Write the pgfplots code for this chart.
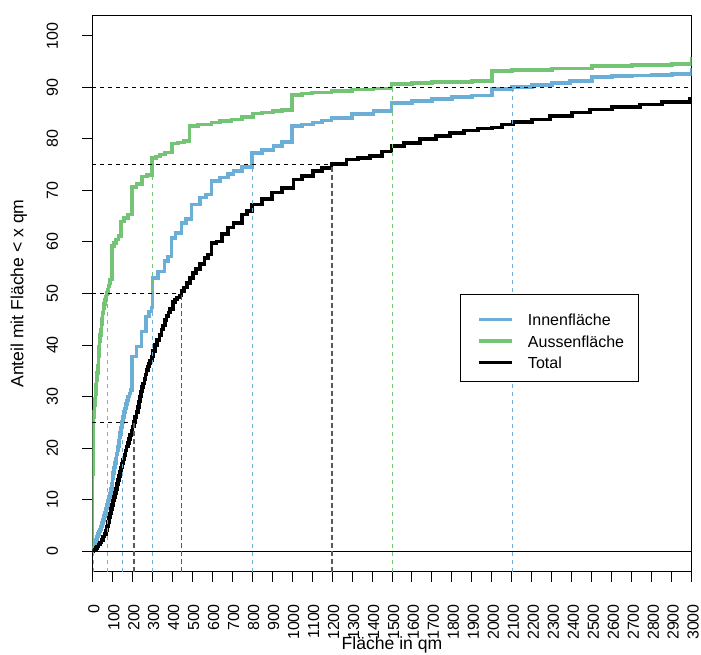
\documentclass[border=0pt]{standalone}
\usepackage{fontspec}
\setmainfont{Liberation Sans}
\usepackage{pgfplots}
\pgfplotsset{compat=1.18}
\definecolor{blueC}{RGB}{107,174,214}
\definecolor{greenC}{RGB}{116,196,118}
\begin{document}
\begin{tikzpicture}
\begin{axis}[name=ax, scale only axis, width=599.4pt, height=556.4pt,
 xmin=0, xmax=3000, ymin=-4, ymax=104,
 xtick={0,100,...,3000}, ytick={0,10,...,100},
 tick align=outside, xtick pos=bottom, ytick pos=left,
 major tick length=10pt,
 every tick/.style={black, line width=1pt},
 axis line style={line width=1pt},
 /pgf/number format/assume math mode=true,
 /pgf/number format/1000 sep={},
 scaled ticks=false,
 tick label style={font=\fontsize{16}{19}\selectfont},
 xticklabel style={xshift=1.5pt, yshift=-22.3pt, rotate=90, anchor=east, inner sep=0pt},
 yticklabel style={xshift=-24pt, rotate=90, anchor=south, inner sep=0pt},
 xlabel={Fläche in qm}, ylabel={Anteil mit Fläche < x qm},
 label style={font=\fontsize{17.6}{21}\selectfont},
 xlabel style={at={(axis description cs:0.5,0)}, anchor=base, yshift=-77.5pt, inner sep=0pt},
 ylabel style={at={([xshift=-68.8pt]axis description cs:0,0.5)}, anchor=base, inner sep=0pt},
 legend style={draw=none, fill=none, at={(axis description cs:0.6418,0.4673)}, anchor=north west,
   inner sep=0pt, row sep=6pt, column sep=0pt, font=\fontsize{16}{19}\selectfont,
   nodes={inner sep=0pt}, cells={anchor=west}},
 legend image code/.code={\draw[#1] (0pt,0pt) -- (33pt,0pt); \path[draw=none, fill=none] (0pt,-7pt) rectangle (49pt,7pt);},
]
% Innenflaeche
\addplot[const plot, blueC, line width=3.6pt] coordinates {
(0,0)(4,0.3)(8,0.6)(12,1.1)(16,1.6)(20,2.2)(25,2.8)(30,3.3)(35,3.8)(40,4.2)(45,4.8)(50,5.4)(55,6.0)(60,6.8)(65,7.5)(70,8.3)(75,9.0)(80,9.8)(85,10.5)(90,11.2)(94,12.1)(98,13.0)(102,14.2)(105,15.1)(110,16.2)(114,17.1)(118,18.0)(122,18.8)(126,19.6)(130,20.3)(134,21.4)(137,22.2)(140,22.9)(145,24.0)(150,25.1)(154,26.0)(158,27.0)(163,27.7)(168,28.5)(174,29.2)(180,30.0)(186,30.6)(192,31.3)
(200,37.8)(222,39.7)(247,42.6)(270,45.5)(285,46.5)(296,47.3)(302,53.0)(329,54.3)(362,56.3)(380,57.2)(396,60.8)(416,61.8)(446,63.7)(470,64.5)(496,67.3)(539,68.6)(570,69.2)(597,71.8)(640,72.5)(680,73.2)(706,73.8)(750,74.5)(798,77.3)(850,77.8)(906,78.6)(950,79.4)(998,82.5)(1050,82.8)(1106,83.2)(1150,83.6)(1198,84.1)(1300,84.8)(1407,85.4)(1498,87.0)(1600,87.4)(1700,87.8)(1800,88.1)(1900,88.4)(1999,89.7)(2102,90.1)(2200,90.5)(2300,90.8)(2391,91.3)(2500,92.0)(2600,92.2)(2700,92.3)(2800,92.4)(2900,92.6)(2998,93.5)(3000,93.5)};
\addlegendentry{\rule{0pt}{14pt}Innenfläche}
% Aussenflaeche
\addplot[const plot, greenC, line width=3.6pt] coordinates {
(0,0)(0.5,5)(1,10)(1.5,15)(2.5,19)(4,21)(5,25)(7,26)(10,27)(12,28.3)(14,29.5)(16,30.5)(18,31.5)(20,32.3)(22,33.2)(25,34.6)(28,36)(31,37.8)(34,39.7)(37,40.8)(40,42)(43,43)(46,44)(49,45.1)(52,46.2)(56,47.1)(60,48)(64,48.7)(68,49.4)(72,49.8)(75,50.1)(78,50.8)(82,51.4)(86,52.0)(90,52.7)
(99,59.2)(110,59.8)(120,60.5)(132,61.2)(145,64.0)(160,64.7)(179,65.3)(199,70.7)(222,71.2)(249,72.7)(275,73.0)(299,76.3)(320,76.6)(340,77.0)(365,77.4)(399,79.1)(430,79.3)(460,79.6)(487,82.5)(530,82.8)(596,83.2)(640,83.5)(696,83.8)(750,84.2)(804,84.9)(850,85.1)(904,85.4)(950,85.6)(1000,88.5)(1050,88.8)(1100,89.0)(1198,89.3)(1300,89.6)(1407,89.8)(1498,90.7)(1600,90.9)(1700,91.0)(1800,91.1)(1900,91.2)(1999,93.2)(2100,93.4)(2300,93.7)(2500,94.2)(2700,94.3)(2900,94.5)(2998,95.5)(3000,95.5)};
\addlegendentry{\rule{0pt}{14pt}Aussenfläche}
% Total
\addplot[const plot, black, line width=3.6pt] coordinates {
(0,0)(6,0.1)(13,0.3)(19,0.6)(25,0.9)(32,1.3)(40,1.7)(47,2.2)(55,2.8)(62,3.3)(70,4.0)(75,4.8)(80,5.7)(85,6.5)(89,7.3)(95,8.2)(100,9.0)(105,9.8)(110,10.5)(115,11.3)(120,12.1)(125,13.0)(130,13.8)(135,14.6)(140,15.4)(145,16.2)(150,17.0)(155,17.8)(161,18.6)(166,19.5)(172,20.3)(178,21.0)(184,21.8)(190,22.5)(196,23.4)(202,24.2)(208,25.1)(215,26.0)(222,27.0)(228,28.0)(234,29.0)(239,30.0)(245,31.0)(250,31.8)(255,32.5)(261,33.4)(267,34.3)(272,35.2)(278,35.8)(284,36.4)(290,37.0)(298,37.8)(305,38.8)(315,40.0)(325,41.0)(336,42.0)(347,43.0)(355,43.8)(364,44.8)(372,45.6)(381,46.3)(390,47.0)(404,48.3)(415,48.8)(425,49.2)(436,49.6)(447,50.5)(460,51.2)(475,52.0)(490,53.0)(504,54.0)(520,54.8)(539,55.7)(562,56.9)(580,57.6)
(597,59.8)(621,60.1)(650,61.5)(680,62.8)(706,63.7)(750,65.3)(775,66)(798,67.3)(850,68.3)(898,69.6)(950,70.5)(1006,72.1)(1050,72.8)(1106,73.8)(1150,74.4)(1198,75.1)(1273,76.0)(1330,76.3)(1390,76.7)(1450,77.6)(1498,78.6)(1560,79.2)(1640,80)(1720,80.6)(1790,81.2)(1860,81.6)(1930,82)(1999,82.2)(2050,82.8)(2107,83.3)(2200,83.8)(2291,84.4)(2400,85.1)(2491,85.7)(2600,86.2)(2741,86.7)(2850,87.2)(2991,87.7)(3000,87.7)};
\addlegendentry{\rule{0pt}{14pt}Total}
% zero line
\addplot[forget plot, black, line width=1pt] coordinates {(0,0) (3000,0)};
% horizontal quantile lines
\addplot[forget plot, black, line width=1.3pt, dash pattern=on 4pt off 4pt] coordinates {(0,25) (209,25)};
\addplot[forget plot, black, line width=1.3pt, dash pattern=on 4pt off 4pt] coordinates {(0,50) (447,50)};
\addplot[forget plot, black, line width=1.3pt, dash pattern=on 4pt off 4pt] coordinates {(0,75) (1198,75)};
\addplot[forget plot, black, line width=1.3pt, dash pattern=on 4pt off 4pt] coordinates {(0,90) (3000,90)};
% vertical quantile lines: Aussen
\addplot[forget plot, greenC, line width=1pt, dash pattern=on 4pt off 4pt] coordinates {(5,-4) (5,25)};
\addplot[forget plot, greenC, line width=1pt, dash pattern=on 4pt off 4pt] coordinates {(77,-4) (77,50)};
\addplot[forget plot, greenC, line width=1pt, dash pattern=on 4pt off 4pt] coordinates {(300,-4) (300,75)};
\addplot[forget plot, greenC, line width=1pt, dash pattern=on 4pt off 4pt] coordinates {(1500,-4) (1500,90)};
% Innen
\addplot[forget plot, blueC, line width=1pt, dash pattern=on 4pt off 4pt] coordinates {(150,-4) (150,25)};
\addplot[forget plot, blueC, line width=1pt, dash pattern=on 4pt off 4pt] coordinates {(302,-4) (302,50)};
\addplot[forget plot, blueC, line width=1pt, dash pattern=on 4pt off 4pt] coordinates {(800,-4) (800,75)};
\addplot[forget plot, blueC, line width=1pt, dash pattern=on 4pt off 4pt] coordinates {(2102,-4) (2102,90)};
% Total
\addplot[forget plot, black!65, line width=1.6pt, dash pattern=on 5pt off 3pt] coordinates {(210,-4) (210,25)};
\addplot[forget plot, black!65, line width=1.6pt, dash pattern=on 5pt off 3pt] coordinates {(447,-4) (447,50)};
\addplot[forget plot, black!65, line width=1.6pt, dash pattern=on 5pt off 3pt] coordinates {(1200,-4) (1200,75)};
% legend box
\draw[line width=1pt, fill=white] (rel axis cs:0.6135,0.3415) rectangle (rel axis cs:0.9109,0.4973);
\end{axis}
\pgfresetboundingbox
\useasboundingbox ([xshift=-92.3pt,yshift=-83.3pt]ax.south west) rectangle ([xshift=9.3pt,yshift=15.3pt]ax.north east);
\end{tikzpicture}
\end{document}
